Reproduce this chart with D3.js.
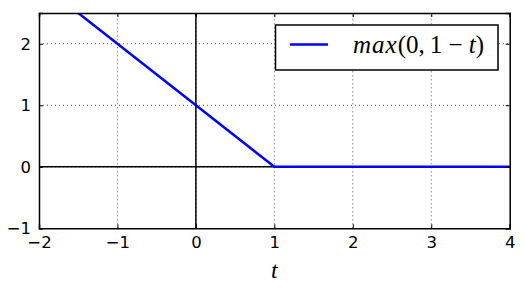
<!DOCTYPE html>
<html><head><meta charset="utf-8">
<script src="https://cdn.jsdelivr.net/npm/d3@7"></script>
<style>body{margin:0;background:#fff}svg{display:block}</style>
</head><body>
<script>
const tValues = [-2, 1, 4];
const hingeValues = [3, 0, 0];
const xTicks = [-2, -1, 0, 1, 2, 3, 4];
const yTicks = [-1, 0, 1, 2];
const xDomain = [-2, 4];
const yDomain = [-1, 2.5];

const W = 524, H = 288;
const m = {left: 39, right: 14.3, top: 13, bottom: 59.7};
const svg = d3.select("body").append("svg").attr("width", W).attr("height", H);
const x = d3.scaleLinear().domain(xDomain).range([m.left, W - m.right]);
const y = d3.scaleLinear().domain(yDomain).range([H - m.bottom, m.top]);
const fmt = d => (d < 0 ? "\u2212" + Math.abs(d) : "" + d);

svg.append("defs").append("clipPath").attr("id", "clip")
  .append("rect").attr("x", x(xDomain[0])).attr("y", y(yDomain[1]))
  .attr("width", x(xDomain[1]) - x(xDomain[0])).attr("height", y(yDomain[0]) - y(yDomain[1]));

const g = svg.append("g");
// grid
g.selectAll(".gx").data(xTicks.slice(1, -1)).enter().append("line")
  .attr("x1", d => x(d)).attr("x2", d => x(d)).attr("y1", y(yDomain[0])).attr("y2", y(yDomain[1]))
  .attr("stroke", "#555").attr("stroke-width", 1).attr("stroke-dasharray", "1,3");
g.selectAll(".gy").data(yTicks.slice(1)).enter().append("line")
  .attr("y1", d => y(d)).attr("y2", d => y(d)).attr("x1", x(xDomain[0])).attr("x2", x(xDomain[1]))
  .attr("stroke", "#555").attr("stroke-width", 1).attr("stroke-dasharray", "1,3");
// zero axes
g.append("line").attr("x1", x(xDomain[0])).attr("x2", x(xDomain[1])).attr("y1", y(0)).attr("y2", y(0))
  .attr("stroke", "#000").attr("stroke-width", 1.5);
g.append("line").attr("x1", x(0)).attr("x2", x(0)).attr("y1", y(yDomain[0])).attr("y2", y(yDomain[1]))
  .attr("stroke", "#000").attr("stroke-width", 1.5);

// line
const data = tValues.map((t, i) => [t, hingeValues[i]]);
g.append("path").datum(data).attr("clip-path", "url(#clip)")
  .attr("d", d3.line().x(d => x(d[0])).y(d => y(d[1])))
  .attr("fill", "none").attr("stroke", "#0000ff").attr("stroke-width", 2.5);

// axes with inward ticks
const fs = "DejaVu Sans, sans-serif";
const axB = g.append("g").attr("transform", `translate(0,${y(yDomain[0])})`)
  .call(d3.axisBottom(x).tickValues(xTicks).tickSize(-4).tickPadding(8).tickFormat(fmt));
const axT = g.append("g").attr("transform", `translate(0,${y(yDomain[1])})`)
  .call(d3.axisTop(x).tickValues(xTicks).tickSize(-4).tickFormat(""));
const axL = g.append("g").attr("transform", `translate(${x(xDomain[0])},0)`)
  .call(d3.axisLeft(y).tickValues(yTicks).tickSize(-4).tickPadding(8).tickFormat(fmt));
const axR = g.append("g").attr("transform", `translate(${x(xDomain[1])},0)`)
  .call(d3.axisRight(y).tickValues(yTicks).tickSize(-4).tickFormat(""));
[axB, axT, axL, axR].forEach(a => {
  a.select(".domain").attr("stroke", "#000").attr("stroke-width", 1.5);
  a.selectAll(".tick line").attr("stroke", "#000").attr("stroke-width", 1);
  a.selectAll("text").attr("font-family", fs).attr("font-size", 16.5).attr("fill", "#000");
});

// x label
const serif = "Liberation Serif, Times New Roman, serif";
svg.append("text").attr("x", x(1)).attr("y", 278).attr("text-anchor", "middle")
  .attr("font-family", serif).attr("font-style", "italic").attr("font-size", 24).text("t");

// legend
const lg = svg.append("g");
lg.append("rect").attr("x", 275.5).attr("y", 25).attr("width", 222.5).attr("height", 45)
  .attr("fill", "#fff").attr("stroke", "#000").attr("stroke-width", 1.5);
lg.append("line").attr("x1", 290).attr("x2", 328).attr("y1", 44.5).attr("y2", 44.5)
  .attr("stroke", "#0000ff").attr("stroke-width", 2.5);
const lt = lg.append("text").attr("x", 353).attr("y", 53)
  .attr("font-family", serif).attr("font-size", 25);
lt.append("tspan").attr("font-style", "italic").attr("letter-spacing", 1).text("max");
lt.append("tspan").text("(0,\u20091\u2005\u2212\u2005");
lt.append("tspan").attr("font-style", "italic").text("t");
lt.append("tspan").text(")");
</script>
</body></html>
